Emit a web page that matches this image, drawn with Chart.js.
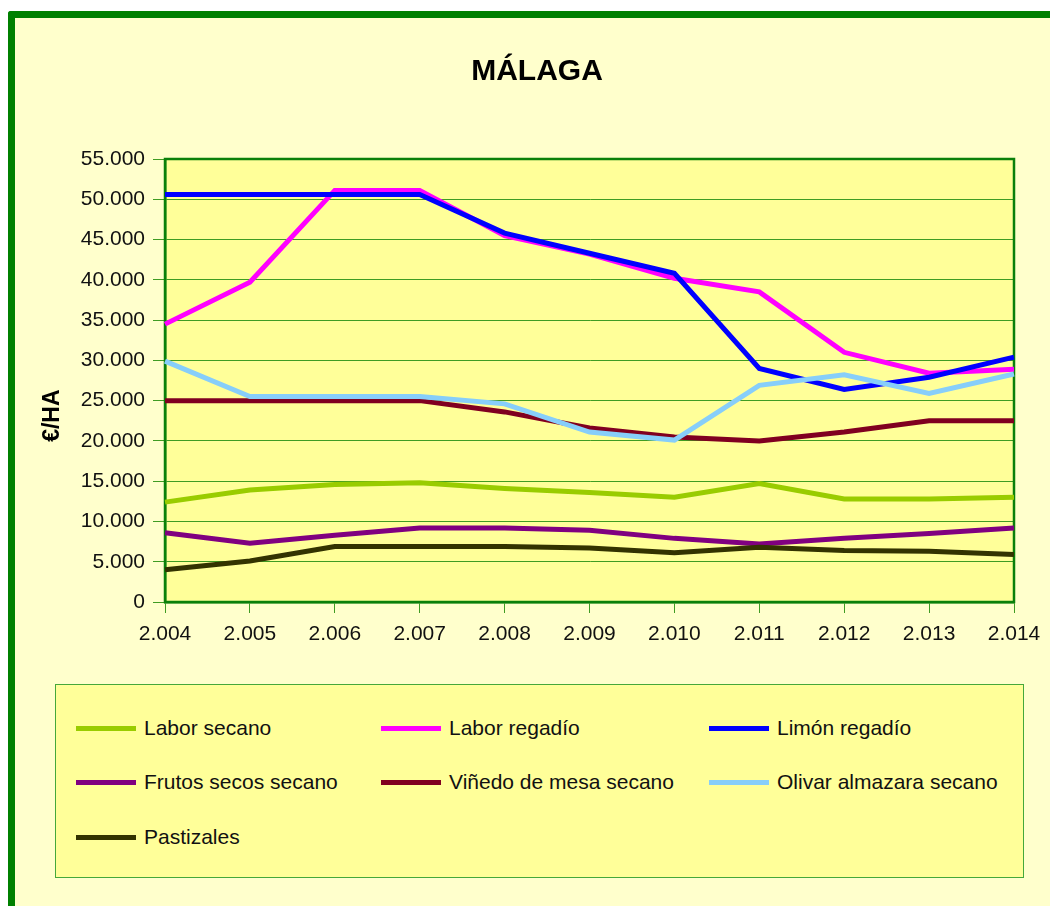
<!DOCTYPE html>
<html>
<head>
<meta charset="utf-8">
<script src="https://cdn.jsdelivr.net/npm/chart.js@4.4.1/dist/chart.umd.min.js"></script>
<style>
  html, body { margin: 0; padding: 0; background: #ffffff; overflow: hidden; }
  body { width: 1050px; height: 906px; position: relative; font-family: "Liberation Sans", Arial, sans-serif; }
  #frame {
    position: absolute; left: 8px; top: 11px; width: 1060px; height: 920px;
    background: #ffffcc; border-left: 7px solid #008000; border-top: 7px solid #008000;
    border-top-left-radius: 3px;
  }
  #chartWrap { position: absolute; left: 0; top: 0; width: 1050px; height: 660px; }
  #legend {
    position: absolute; left: 55px; top: 684px; width: 967px; height: 192px;
    background: #ffff99; border: 1px solid #45a83a;
  }
  .item { position: absolute; height: 24px; display: flex; align-items: center; font-size: 21px; color: #111; white-space: nowrap; }
  .item span.swatch { display: inline-block; width: 60px; height: 5px; margin-right: 8px; }
</style>
</head>
<body>
<div id="frame"></div>
<div id="chartWrap"><canvas id="chart" width="1050" height="660"></canvas></div>
<div id="legend"></div>
<script>
const years = ["2.004", "2.005", "2.006", "2.007", "2.008", "2.009", "2.010", "2.011", "2.012", "2.013", "2.014"];

const laborSecano = [12400, 13900, 14600, 14800, 14100, 13600, 13000, 14700, 12800, 12800, 13000];
const laborRegadio = [34500, 39700, 51100, 51100, 45500, 43200, 40200, 38500, 31000, 28400, 28900];
const limonRegadio = [50600, 50600, 50600, 50600, 45800, 43300, 40800, 29000, 26400, 27900, 30400];
const frutosSecos = [8600, 7300, 8300, 9200, 9200, 8900, 7900, 7200, 7900, 8500, 9200];
const vinedoMesa = [25000, 25000, 25000, 25000, 23600, 21600, 20500, 20000, 21100, 22500, 22500];
const olivarAlmazara = [29900, 25500, 25500, 25500, 24600, 21100, 20100, 26900, 28200, 25900, 28300];
const pastizales = [4000, 5100, 6900, 6900, 6900, 6700, 6100, 6800, 6400, 6300, 5900];

const seriesNames = ["Labor secano", "Labor regadío", "Limón regadío", "Frutos secos secano",
  "Viñedo de mesa secano", "Olivar almazara secano", "Pastizales"];
const seriesColors = ["#99cc00", "#ff00ff", "#0000ff", "#800080", "#800020", "#87cefa", "#333300"];
const seriesValues = [laborSecano, laborRegadio, limonRegadio, frutosSecos, vinedoMesa, olivarAlmazara, pastizales];

const fontFamily = '"Liberation Sans", Arial, sans-serif';
const gridGreen = "#3f9c22";
const borderGreen = "#0a800a";

const formatThousands = (v) => String(v).replace(/\B(?=(\d{3})+(?!\d))/g, ".");

// plot area background + full border
const plotFrame = {
  id: "plotFrame",
  beforeDraw(chart) {
    const { ctx, chartArea: a } = chart;
    ctx.save();
    ctx.fillStyle = "#ffff99";
    ctx.fillRect(a.left, a.top, a.right - a.left, a.bottom - a.top);
    ctx.restore();
  },
  beforeDatasetsDraw(chart) {
    const { ctx, chartArea: a } = chart;
    ctx.save();
    ctx.strokeStyle = borderGreen;
    ctx.lineWidth = 2.5;
    ctx.strokeRect(a.left, a.top, a.right - a.left, a.bottom - a.top);
    ctx.restore();
  }
};

const datasets = seriesNames.map((name, i) => ({
  label: name,
  data: seriesValues[i],
  borderColor: seriesColors[i],
  backgroundColor: seriesColors[i],
  borderWidth: 5,
  pointRadius: 0,
  tension: 0,
  fill: false,
  order: seriesNames.length - i
}));

new Chart(document.getElementById("chart"), {
  type: "line",
  data: { labels: years, datasets },
  plugins: [plotFrame],
  options: {
    responsive: false,
    animation: false,
    layout: { padding: { left: 60, right: 36, top: 0, bottom: 8 } },
    plugins: {
      legend: { display: false },
      tooltip: { enabled: false },
      title: {
        display: true,
        text: "MÁLAGA",
        color: "#000",
        font: { family: fontFamily, size: 30, weight: "bold", lineHeight: 1.2 },
        padding: { top: 54, bottom: 69 }
      }
    },
    scales: {
      x: {
        offset: false,
        afterFit(scale) { scale.height = 50; },
        grid: { drawOnChartArea: false, drawTicks: true, tickLength: 11, color: gridGreen, lineWidth: 1 },
        border: { display: true, color: borderGreen, width: 2.5 },
        ticks: { color: "#111", padding: 9, maxRotation: 0, autoSkip: false,
          font: { family: fontFamily, size: 21 } }
      },
      y: {
        min: 0,
        max: 55000,
        afterFit(scale) { scale.width = 105; },
        grid: { drawOnChartArea: true, drawTicks: true, tickLength: 12, color: gridGreen, lineWidth: 1 },
        border: { display: true, color: borderGreen, width: 2.5 },
        ticks: { stepSize: 5000, color: "#111", padding: 8,
          font: { family: fontFamily, size: 21 },
          callback: (v) => formatThousands(v) },
        title: {
          display: true,
          text: "€/HA" + "\u00a0".repeat(11),
          color: "#000",
          font: { family: fontFamily, size: 23, weight: "bold", lineHeight: 1.2 },
          padding: { top: -21, bottom: 0 }
        }
      }
    }
  }
});

// legend box: three columns, rows of three
const legend = document.getElementById("legend");
const colLeft = [20, 325, 653];
const rowTop = [31, 85, 140];
seriesNames.forEach((name, i) => {
  const el = document.createElement("div");
  el.className = "item";
  el.style.left = colLeft[i % 3] + "px";
  el.style.top = rowTop[Math.floor(i / 3)] + "px";
  el.innerHTML = `<span class="swatch" style="background:${seriesColors[i]}"></span>${name}`;
  legend.appendChild(el);
});
</script>
</body>
</html>
